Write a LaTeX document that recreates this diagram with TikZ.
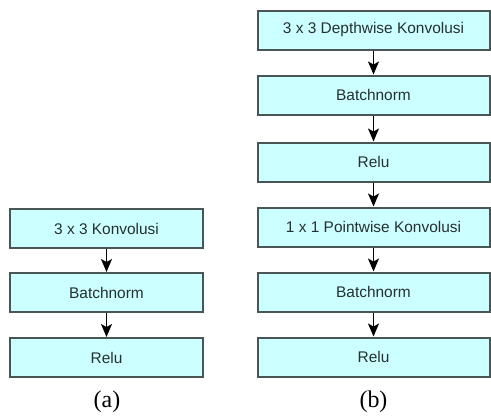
\documentclass[tikz,border=0pt]{standalone}
\usepackage{fontspec}
\setmainfont{Liberation Serif}
\newfontfamily\boxfont{Liberation Sans}
\usetikzlibrary{arrows.meta}
\definecolor{boxfill}{HTML}{CCFFFF}
\definecolor{boxline}{HTML}{4A5656}
\definecolor{boxtext}{HTML}{263030}
\tikzset{
  layer/.style={draw=boxline, fill=boxfill, line width=2bp, inner sep=0pt,
    minimum height=39bp, text=boxtext,
    font=\boxfont\fontsize{15.5}{18}\selectfont},
  narrowlayer/.style={layer, minimum width=192bp},
  widelayer/.style={layer, minimum width=232bp},
  flow/.style={draw=black, line width=1.3bp,
    -{Stealth[length=13bp,width=11bp,inset=3bp]}},
  caption/.style={font=\fontsize{24}{27}\selectfont}
}
\begin{document}
\begin{tikzpicture}[x=1bp, y=-1bp]
  \useasboundingbox (0,0) rectangle (491,417);
  % (a) standard convolution block
  \node[narrowlayer] (a1) at (106.5,228.5) {3 x 3 Konvolusi};
  \node[narrowlayer] (a2) at (106.5,292.5) {Batchnorm};
  \node[narrowlayer] (a3) at (106.5,357.5) {Relu};
  \draw[flow] (a1) -- (a2);
  \draw[flow] (a2) -- (a3);
  \node[caption] (la) at (107,402) {(a)};
  % (b) depthwise separable convolution block
  \node[widelayer] (b1) at (373.5,30) {3 x 3 Depthwise Konvolusi};
  \node[widelayer] (b2) at (373.5,95) {Batchnorm};
  \node[widelayer] (b3) at (373.5,162) {Relu};
  \node[widelayer] (b4) at (373.5,227) {1 x 1 Pointwise Konvolusi};
  \node[widelayer] (b5) at (373.5,292) {Batchnorm};
  \node[widelayer] (b6) at (373.5,357) {Relu};
  \draw[flow] (b1) -- (b2);
  \draw[flow] (b2) -- (b3);
  \draw[flow] (b3) -- (b4);
  \draw[flow] (b4) -- (b5);
  \draw[flow] (b5) -- (b6);
  \node[caption] (lb) at (373.5,402) {(b)};
\end{tikzpicture}
\end{document}
